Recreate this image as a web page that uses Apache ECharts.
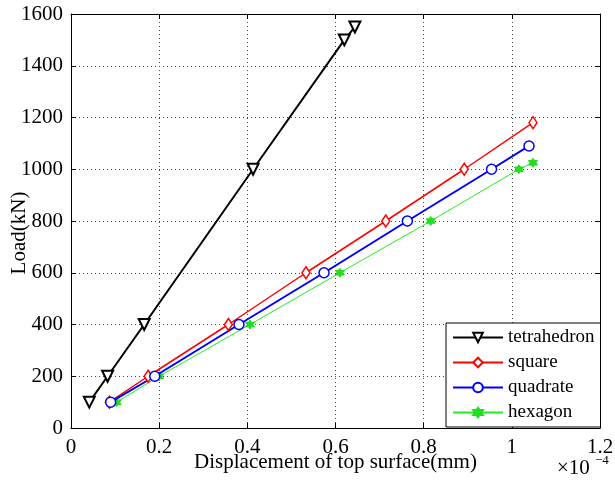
<!DOCTYPE html>
<html>
<head>
<meta charset="utf-8">
<script src="https://cdn.jsdelivr.net/npm/echarts@6/dist/echarts.min.js"></script>
<style>
  html, body { margin: 0; padding: 0; background: #fff; }
  #chart { width: 615px; height: 481px; }
</style>
</head>
<body>
<div id="chart"></div>
<script>
// displacement values are in units of 1e-4 mm
var loadLevels = [100, 200, 400, 1000, 1500, 1550];
var tetraDisp = [0.0415, 0.083, 0.166, 0.413, 0.620, 0.644];

var squareLoads = [100, 200, 400, 600, 800, 1000, 1180];
var squareDisp = [0.087, 0.175, 0.357, 0.533, 0.714, 0.892, 1.048];

var quadLoads = [100, 200, 400, 600, 800, 1000, 1090];
var quadDisp = [0.090, 0.190, 0.381, 0.574, 0.763, 0.954, 1.039];

var hexLoads = [100, 200, 400, 600, 800, 1000, 1025];
var hexDisp = [0.1035, 0.200, 0.406, 0.610, 0.816, 1.016, 1.048];

function pairs(xs, ys) {
    return xs.map(function (x, i) { return [x, ys[i]]; });
}

var font = 'Liberation Serif';
var hexagram = 'path://M0,-10L2.9,-5L8.7,-5L5.8,0L8.7,5L2.9,5L0,10L-2.9,5L-8.7,5L-5.8,0L-8.7,-5L-2.9,-5Z';

var option = {
    animation: false,
    backgroundColor: '#fff',
    textStyle: { fontFamily: font },
    grid: { left: 71, right: 15, top: 14, bottom: 53, outerBoundsMode: 'none', containLabel: false },
    legend: {
        orient: 'vertical',
        left: 446,
        top: 323,
        padding: [5, 6, 5, 6],
        itemGap: 6,
        itemWidth: 50,
        itemHeight: 12,
        backgroundColor: '#fff',
        borderColor: '#000',
        borderWidth: 1,
        borderRadius: 0,
        textStyle: { fontFamily: font, fontSize: 19, color: '#000' },
        data: ['tetrahedron', 'square', 'quadrate', 'hexagon']
    },
    xAxis: [{
        type: 'value', min: 0, max: 1.2, interval: 0.2,
        name: 'Displacement of top surface(mm)',
        nameLocation: 'middle', nameGap: 24, nameMoveOverlap: false,
        nameTextStyle: { fontFamily: font, fontSize: 21, color: '#000' },
        axisLine: { lineStyle: { color: '#000', width: 1 } },
        axisTick: { inside: true, length: 5, lineStyle: { color: '#000' } },
        axisLabel: { fontFamily: font, fontSize: 21, color: '#000', margin: 9 },
        splitLine: { show: true, lineStyle: { color: '#444', type: [1, 3], width: 1 } }
    }, {
        type: 'value', min: 0, max: 1.2, interval: 0.2, position: 'top',
        axisLine: { show: true, onZero: false, lineStyle: { color: '#000', width: 1 } },
        axisTick: { inside: true, length: 5, lineStyle: { color: '#000' } },
        axisLabel: { show: false },
        splitLine: { show: false }
    }],
    yAxis: [{
        type: 'value', min: 0, max: 1600, interval: 200,
        name: 'Load(kN)',
        nameLocation: 'middle', nameGap: 41, nameRotate: 90, nameMoveOverlap: false,
        nameTextStyle: { fontFamily: font, fontSize: 21, color: '#000', padding: [0, 24, 0, 0] },
        axisLine: { show: true, lineStyle: { color: '#000', width: 1 } },
        axisTick: { show: true, inside: true, length: 5, lineStyle: { color: '#000' } },
        axisLabel: {
            fontFamily: font, fontSize: 21, color: '#000', margin: 8,
            formatter: function (v) { return String(v); }
        },
        splitLine: { show: true, lineStyle: { color: '#444', type: [1, 3], width: 1 } }
    }, {
        type: 'value', min: 0, max: 1600, interval: 200, position: 'right',
        axisLine: { show: true, onZero: false, lineStyle: { color: '#000', width: 1 } },
        axisTick: { show: true, inside: true, length: 5, lineStyle: { color: '#000' } },
        axisLabel: { show: false },
        splitLine: { show: false }
    }],
    graphic: [{
        type: 'text', left: 557, top: 458,
        style: { text: '×10', fontFamily: font, fontSize: 21, fill: '#000' }
    }, {
        type: 'text', left: 595, top: 454,
        style: { text: '−4', fontFamily: font, fontSize: 13, fill: '#000' }
    }],
    series: [{
        name: 'tetrahedron', type: 'line',
        data: pairs(tetraDisp, loadLevels),
        color: '#000',
        lineStyle: { width: 2, color: '#000' },
        symbol: 'triangle', symbolRotate: 180, symbolSize: 11,
        itemStyle: { color: '#fff', borderColor: '#000', borderWidth: 2 },
        z: 4
    }, {
        name: 'square', type: 'line',
        data: pairs(squareDisp, squareLoads),
        color: '#ff0000',
        lineStyle: { width: 1.5, color: '#ff0000' },
        symbol: 'diamond', symbolSize: [8, 12],
        itemStyle: { color: '#fff', borderColor: '#ff0000', borderWidth: 1.5 },
        z: 3
    }, {
        name: 'quadrate', type: 'line',
        data: pairs(quadDisp, quadLoads),
        color: '#0000ff',
        lineStyle: { width: 2, color: '#0000ff' },
        symbol: 'circle', symbolSize: 10,
        itemStyle: { color: '#fff', borderColor: '#0000ff', borderWidth: 1.5 },
        z: 3
    }, {
        name: 'hexagon', type: 'line',
        data: pairs(hexDisp, hexLoads),
        color: '#22ee22',
        lineStyle: { width: 1, color: '#22ee22' },
        symbol: hexagram, symbolSize: 9,
        itemStyle: { color: '#22dd22', borderColor: '#22dd22', borderWidth: 1 },
        z: 2
    }]
};

var myChart = echarts.init(document.getElementById('chart'));
myChart.setOption(option);
</script>
</body>
</html>
